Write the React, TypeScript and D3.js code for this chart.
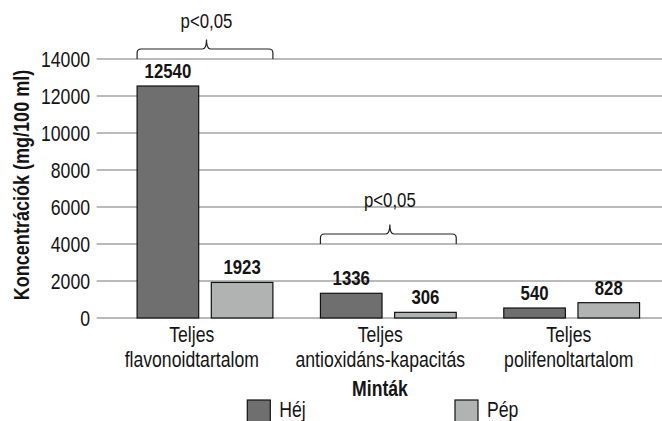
import React from "react";
import * as d3 from "d3";

const categories = ["Teljes flavonoidtartalom", "Teljes antioxidáns-kapacitás", "Teljes polifenoltartalom"];
const categoryLines = [
  ["Teljes", "flavonoidtartalom"],
  ["Teljes", "antioxidáns-kapacitás"],
  ["Teljes", "polifenoltartalom"],
];
const seriesNames = ["Héj", "Pép"];
const hejValues = [12540, 1336, 540];
const pepValues = [1923, 306, 828];
const yTicks = [0, 2000, 4000, 6000, 8000, 10000, 12000, 14000];
const sigCategories = ["Teljes flavonoidtartalom", "Teljes antioxidáns-kapacitás"];
const sigLevels = [14000, 4000];
const sigLabels = ["p<0,05", "p<0,05"];

const W = 662;
const H = 421;
const colors = ["#6e6f6e", "#b1b3b3"];
const FONT = "'Liberation Sans', Arial, sans-serif";
const SX = 0.82;

function NText(props: {
  x: number;
  y: number;
  size: number;
  bold?: boolean;
  anchor?: string;
  rotate?: number;
  children: React.ReactNode;
}) {
  const { x, y, size, bold, anchor = "middle", rotate = 0, children } = props;
  return (
    <text
      transform={`translate(${x},${y}) rotate(${rotate}) scale(${SX},1)`}
      textAnchor={anchor}
      fontFamily={FONT}
      fontWeight={bold ? "bold" : "normal"}
      fontSize={size}
      fill="#141414"
    >
      {children}
    </text>
  );
}

export default function App() {
  const y = d3.scaleLinear().domain([0, 14000]).range([318, 59]);
  const xBars = d3.scaleBand<string>().domain(categories).range([113.3, 663.3]);
  const xLabels = d3.scaleBand<string>().domain(categories).range([97.5, 663]);
  const inner = d3.scaleBand<string>().domain(seriesNames).range([23.8, 159.6]).paddingInner(0.17);
  const series = [hejValues, pepValues];

  return (
    <svg width={W} height={H} style={{ position: "absolute", left: 0, top: 0 }}>
      <rect width={W} height={H} fill="#fff" />
      {yTicks.map((t) => (
        <g key={t}>
          <line x1={96.7} x2={662} y1={y(t)} y2={y(t)} stroke="#a3a3a3" strokeWidth={1.5} />
          <NText x={90} y={y(t) + 7.5} size={21.5} anchor="end">
            {t}
          </NText>
        </g>
      ))}
      <NText x={29} y={185} size={22} bold rotate={-90}>
        Koncentrációk (mg/100 ml)
      </NText>
      {categories.map((c, ci) =>
        series.map((vals, si) => {
          const x0 = (xBars(c) as number) + (inner(seriesNames[si]) as number);
          const bw = inner.bandwidth();
          const v = vals[ci];
          return (
            <g key={c + si}>
              <rect x={x0} y={y(v)} width={bw} height={y(0) - y(v)} fill={colors[si]} stroke="#111" strokeWidth={1.2} />
              <NText x={x0 + bw / 2} y={y(v) - 8} size={20.5} bold>
                {v}
              </NText>
            </g>
          );
        })
      )}
      {categories.map((c, ci) => {
        const cx = (xLabels(c) as number) + xLabels.bandwidth() / 2;
        const lines = categoryLines[ci];
        return (
          <g key={c}>
            <NText x={cx} y={342} size={21.5}>{lines[0]}</NText>
            <NText x={cx} y={367} size={21.5}>{lines[1]}</NText>
          </g>
        );
      })}
      <NText x={380} y={396} size={21.5} bold>
        Minták
      </NText>
      {sigCategories.map((c, i) => {
        const xl = (xBars(c) as number) + (inner(seriesNames[0]) as number);
        const xr = (xBars(c) as number) + (inner(seriesNames[1]) as number) + inner.bandwidth();
        const xm = (xl + xr) / 2 + 1.5;
        const yb = y(sigLevels[i]);
        const yh = yb - 10;
        const yp = yh - 9.5;
        const r = 4;
        const d = `M${xl},${yb} L${xl},${yh + r} Q${xl},${yh} ${xl + r},${yh} L${xm - r},${yh} Q${xm},${yh} ${xm},${yp} M${xm},${yp} Q${xm},${yh} ${xm + r},${yh} L${xr - r},${yh} Q${xr},${yh} ${xr},${yh + r} L${xr},${yb}`;
        return (
          <g key={c}>
            <path d={d} fill="none" stroke="#222" strokeWidth={1.2} />
            <NText x={xm} y={yp - (i === 0 ? 12 : 18)} size={20.5}>
              {sigLabels[i]}
            </NText>
          </g>
        );
      })}
      {seriesNames.map((s, i) => {
        const lx = i === 0 ? 247.3 : 455;
        return (
          <g key={s}>
            <rect x={lx} y={400} width={23} height={24} fill={colors[i]} stroke="#111" strokeWidth={1.2} />
            <NText x={lx + 32} y={417} size={21.5} anchor="start">
              {s}
            </NText>
          </g>
        );
      })}
    </svg>
  );
}
